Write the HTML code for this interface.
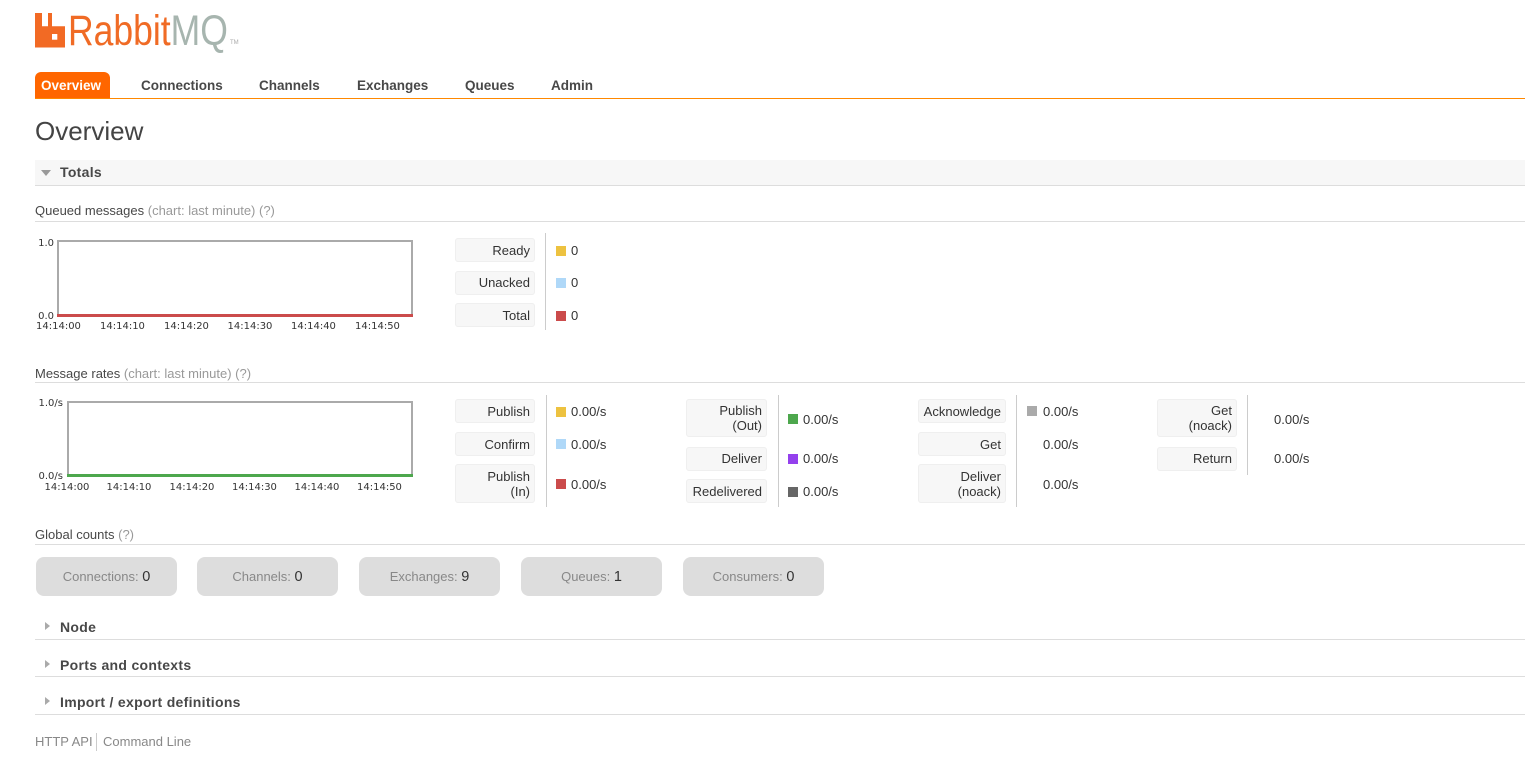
<!DOCTYPE html>
<html><head><meta charset="utf-8">
<style>
html,body{margin:0;padding:0;background:#fff;}
body{width:1525px;height:773px;position:relative;overflow:hidden;font-family:"Liberation Sans",Arial,sans-serif;font-size:13px;color:#484848;}
.a{position:absolute;white-space:nowrap;}
.t{position:absolute;white-space:nowrap;line-height:16px;}
.nav{position:absolute;top:77px;line-height:17px;font-weight:bold;font-size:13.5px;color:#484848;white-space:nowrap;}
.hl{position:absolute;left:35px;right:0;height:1px;background:#ddd;}
.g{color:#999;}
.sec{position:absolute;left:60px;font-weight:bold;font-size:14px;letter-spacing:0.3px;line-height:16px;color:#484848;white-space:nowrap;}
.ax{position:absolute;font-family:"DejaVu Sans","Liberation Sans",sans-serif;font-size:10px;line-height:12px;color:#333;white-space:nowrap;}
.box{position:absolute;background:#f7f7f7;border:1px solid #efefef;border-radius:3px;box-sizing:border-box;display:flex;align-items:center;justify-content:flex-end;padding-right:4px;text-align:right;line-height:15px;color:#333;font-size:13px;}
.div{position:absolute;width:1px;background:#ccc;}
.sw{position:absolute;width:10px;height:10px;}
.v{position:absolute;line-height:16px;color:#333;white-space:nowrap;}
.gc{position:absolute;top:557px;width:141px;height:39px;background:#ddd;border-radius:8px;text-align:center;line-height:40px;color:#888;font-size:13px;}
.gc b{font-weight:normal;color:#333;font-size:14.5px;}
.tri-r{position:absolute;left:45px;width:0;height:0;border-top:4.5px solid transparent;border-bottom:4.5px solid transparent;border-left:5px solid #aaa;}
</style></head><body>

<!-- Logo -->
<svg class="a" style="left:0;top:0" width="70" height="50">
<path d="M35,13 H42 V26.3 H48 V13 H52 V26.3 H65 V47.5 H35 Z" fill="#f26a24"/>
<rect x="52" y="34" width="5.3" height="5.7" fill="#fff"/>
</svg>
<div class="a" style="left:68px;top:10px;font-size:43px;line-height:43px;transform:scaleX(0.826);transform-origin:0 0;"><span style="color:#f06b25">Rabbit</span><span style="color:#a7b5af">MQ</span></div>
<div class="a" style="left:230px;top:40px;font-size:6px;line-height:6px;color:#aaa;">TM</div>

<!-- Nav -->
<div class="a" style="left:35px;top:72px;width:75px;height:26px;background:#f60;border-radius:6px 6px 0 0;"></div>
<div class="nav" style="left:41px;color:#fff;">Overview</div>
<div class="nav" style="left:141px;">Connections</div>
<div class="nav" style="left:259px;">Channels</div>
<div class="nav" style="left:357px;">Exchanges</div>
<div class="nav" style="left:465px;">Queues</div>
<div class="nav" style="left:551px;">Admin</div>
<div class="a" style="left:35px;right:0;top:98px;height:1px;background:#f80;"></div>

<!-- Heading -->
<div class="a" style="left:35px;top:118px;font-size:26px;line-height:26px;color:#444;">Overview</div>

<!-- Totals bar -->
<div class="a" style="left:35px;right:0;top:160px;height:25px;background:#f7f7f7;border-bottom:1px solid #ddd;"></div>
<div class="a" style="left:41px;top:170px;width:0;height:0;border-left:5.5px solid transparent;border-right:5.5px solid transparent;border-top:6px solid #999;"></div>
<div class="sec" style="top:164px;">Totals</div>

<!-- Queued messages -->
<div class="t" style="left:35px;top:203px;">Queued messages <span class="g">(chart: last minute) (?)</span></div>
<div class="hl" style="top:221px;"></div>

<div class="a" style="left:57px;top:240px;width:356px;height:77px;border:2px solid #aaa;box-sizing:border-box;"></div>
<div class="a" style="left:57px;top:314px;width:356px;height:3px;background:#cb4b4b;"></div>
<div class="ax" style="left:0;width:54px;text-align:right;top:237.5px;">1.0</div>
<div class="ax" style="left:0;width:54px;text-align:right;top:311px;">0.0</div>
<div class="ax" style="left:36px;top:321px;">14:14:00</div>
<div class="ax" style="left:100px;top:321px;">14:14:10</div>
<div class="ax" style="left:164px;top:321px;">14:14:20</div>
<div class="ax" style="left:227.5px;top:321px;">14:14:30</div>
<div class="ax" style="left:291px;top:321px;">14:14:40</div>
<div class="ax" style="left:355px;top:321px;">14:14:50</div>

<div class="box" style="left:455px;top:238px;width:80px;height:24px;">Ready</div>
<div class="box" style="left:455px;top:270.5px;width:80px;height:24px;">Unacked</div>
<div class="box" style="left:455px;top:303px;width:80px;height:24px;">Total</div>
<div class="div" style="left:545px;top:233px;height:97px;"></div>
<div class="sw" style="left:556px;top:246px;background:#edc240;"></div>
<div class="sw" style="left:556px;top:278px;background:#afd8f8;"></div>
<div class="sw" style="left:556px;top:311px;background:#cb4b4b;"></div>
<div class="v" style="left:571px;top:242.5px;">0</div>
<div class="v" style="left:571px;top:275px;">0</div>
<div class="v" style="left:571px;top:307.5px;">0</div>

<!-- Message rates -->
<div class="t" style="left:35px;top:366px;">Message rates <span class="g">(chart: last minute) (?)</span></div>
<div class="hl" style="top:382px;"></div>

<div class="a" style="left:67px;top:401px;width:346px;height:76px;border:2px solid #aaa;box-sizing:border-box;"></div>
<div class="a" style="left:67px;top:474px;width:346px;height:3px;background:#4da74d;"></div>
<div class="ax" style="left:0;width:63px;text-align:right;top:398px;">1.0/s</div>
<div class="ax" style="left:0;width:63px;text-align:right;top:470.5px;">0.0/s</div>
<div class="ax" style="left:44.5px;top:482px;">14:14:00</div>
<div class="ax" style="left:106.5px;top:482px;">14:14:10</div>
<div class="ax" style="left:169.5px;top:482px;">14:14:20</div>
<div class="ax" style="left:232px;top:482px;">14:14:30</div>
<div class="ax" style="left:294.5px;top:482px;">14:14:40</div>
<div class="ax" style="left:357px;top:482px;">14:14:50</div>

<!-- col1 -->
<div class="box" style="left:455px;top:399px;width:80px;height:24px;">Publish</div>
<div class="box" style="left:455px;top:432px;width:80px;height:24px;">Confirm</div>
<div class="box" style="left:455px;top:464px;width:80px;height:39px;">Publish<br>(In)</div>
<div class="div" style="left:545.5px;top:395px;height:112px;"></div>
<div class="sw" style="left:556px;top:407px;background:#edc240;"></div>
<div class="sw" style="left:556px;top:439px;background:#afd8f8;"></div>
<div class="sw" style="left:556px;top:479px;background:#cb4b4b;"></div>
<div class="v" style="left:571px;top:403.5px;">0.00/s</div>
<div class="v" style="left:571px;top:436.5px;">0.00/s</div>
<div class="v" style="left:571px;top:476.5px;">0.00/s</div>

<!-- col2 -->
<div class="box" style="left:686px;top:399px;width:81px;height:38px;">Publish<br>(Out)</div>
<div class="box" style="left:686px;top:446.5px;width:81px;height:24px;">Deliver</div>
<div class="box" style="left:686px;top:479px;width:81px;height:24px;">Redelivered</div>
<div class="div" style="left:778px;top:395px;height:112px;"></div>
<div class="sw" style="left:788px;top:414px;background:#4da74d;"></div>
<div class="sw" style="left:788px;top:454px;background:#9440ed;"></div>
<div class="sw" style="left:788px;top:486.5px;background:#666;"></div>
<div class="v" style="left:803px;top:411.5px;">0.00/s</div>
<div class="v" style="left:803px;top:451px;">0.00/s</div>
<div class="v" style="left:803px;top:483.5px;">0.00/s</div>

<!-- col3 -->
<div class="box" style="left:918px;top:399px;width:88px;height:24px;">Acknowledge</div>
<div class="box" style="left:918px;top:432px;width:88px;height:24px;">Get</div>
<div class="box" style="left:918px;top:464px;width:88px;height:39px;">Deliver<br>(noack)</div>
<div class="div" style="left:1016px;top:395px;height:112px;"></div>
<div class="sw" style="left:1027px;top:406px;background:#aaa;"></div>
<div class="v" style="left:1043px;top:403.5px;">0.00/s</div>
<div class="v" style="left:1043px;top:436.5px;">0.00/s</div>
<div class="v" style="left:1043px;top:476.5px;">0.00/s</div>

<!-- col4 -->
<div class="box" style="left:1157px;top:399px;width:80px;height:38px;">Get<br>(noack)</div>
<div class="box" style="left:1157px;top:446.5px;width:80px;height:24px;">Return</div>
<div class="div" style="left:1247px;top:395px;height:80px;"></div>
<div class="v" style="left:1274px;top:411.5px;">0.00/s</div>
<div class="v" style="left:1274px;top:451px;">0.00/s</div>

<!-- Global counts -->
<div class="t" style="left:35px;top:527px;">Global counts <span class="g">(?)</span></div>
<div class="hl" style="top:544px;"></div>
<div class="gc" style="left:36px;">Connections: <b>0</b></div>
<div class="gc" style="left:197px;">Channels: <b>0</b></div>
<div class="gc" style="left:359px;">Exchanges: <b>9</b></div>
<div class="gc" style="left:521px;">Queues: <b>1</b></div>
<div class="gc" style="left:683px;">Consumers: <b>0</b></div>

<!-- Collapsed sections -->
<div class="tri-r" style="top:622px;"></div>
<div class="sec" style="top:618.5px;">Node</div>
<div class="hl" style="top:639px;"></div>
<div class="tri-r" style="top:660px;"></div>
<div class="sec" style="top:656.5px;">Ports and contexts</div>
<div class="hl" style="top:676px;"></div>
<div class="tri-r" style="top:697px;"></div>
<div class="sec" style="top:693.5px;">Import / export definitions</div>
<div class="hl" style="top:714px;"></div>

<!-- Footer -->
<div class="t" style="left:35px;top:733.5px;color:#888;">HTTP API</div>
<div class="a" style="left:96px;top:733px;width:1px;height:18px;background:#ccc;"></div>
<div class="t" style="left:103px;top:733.5px;color:#888;">Command Line</div>

</body></html>
